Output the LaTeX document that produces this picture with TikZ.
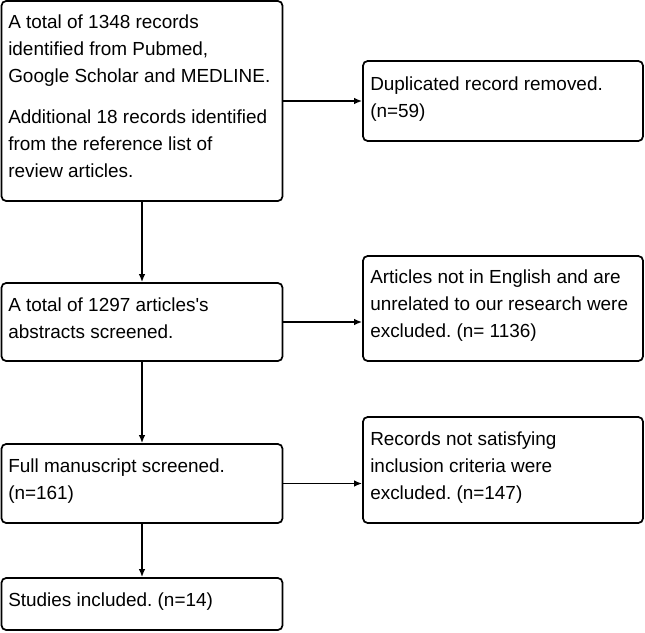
\documentclass[tikz,border=0pt]{standalone}
\usepackage{fontspec}
\setmainfont{Liberation Sans}
\newfontfamily\plainsans{Liberation Sans}
\usetikzlibrary{arrows.meta}
\frenchspacing
\tikzset{
  box/.style={draw=black, line width=1.3pt, rounded corners=3.5pt, inner sep=0pt, fill=white},
  lbl/.style={anchor=base west, inner sep=0pt, font=\plainsans\fontsize{14.2pt}{20.25pt}\selectfont},
  conn/.style={line width=1.3pt, -{Latex[length=6pt,width=5pt]}}
}
\newcommand\txt[1]{\parbox[t]{200pt}{\raggedright #1}}
\begin{document}
\begin{tikzpicture}[x=0.75pt,y=-0.75pt]
\useasboundingbox (0,0) rectangle (645,632);
\node[box, minimum width=210.75pt, minimum height=150pt] (b1) at (142,101) {};
\node[box, minimum width=210pt, minimum height=60pt] (d) at (503,101) {};
\node[box, minimum width=210.75pt, minimum height=58.5pt] (b2) at (142,322) {};
\node[box, minimum width=210pt, minimum height=78.75pt] (a) at (503,308.5) {};
\node[box, minimum width=210.75pt, minimum height=59.25pt] (b3) at (142,483.5) {};
\node[box, minimum width=210pt, minimum height=79.5pt] (r) at (503,470) {};
\node[box, minimum width=210.75pt, minimum height=39pt] (b4) at (142,604) {};

\node[lbl] (t1) at (8,28) {\txt{A total of 1348 records\\identified from Pubmed,\\Google Scholar and MEDLINE.\\[10.5pt]Additional 18 records identified\\from the reference list of\\review articles.}};
\node[lbl] (td) at (370,90) {\txt{Duplicated record removed.\\(n=59)}};
\node[lbl] (t2) at (8,311) {\txt{A total of 1297 articles's\\abstracts screened.}};
\node[lbl] (ta) at (370,283) {\txt{Articles not in English and are\\unrelated to our research were\\excluded. (n= 1136)}};
\node[lbl] (t3) at (8,472) {\txt{Full manuscript screened.\\(n=161)}};
\node[lbl] (tr) at (370,445) {\txt{Records not satisfying\\inclusion criteria were\\excluded. (n=147)}};
\node[lbl] (t4) at (8,606) {\txt{Studies included. (n=14)}};

\draw[conn] (b1.east) -- (b1.east -| d.west);
\draw[conn] (b2.east) -- (b2.east -| a.west);
\draw[conn] (b3.east) -- (b3.east -| r.west);
\draw[conn] (b1.south) -- (b2.north);
\draw[conn] (b2.south) -- (b3.north);
\draw[conn] (b3.south) -- (b4.north);
\end{tikzpicture}
\end{document}
